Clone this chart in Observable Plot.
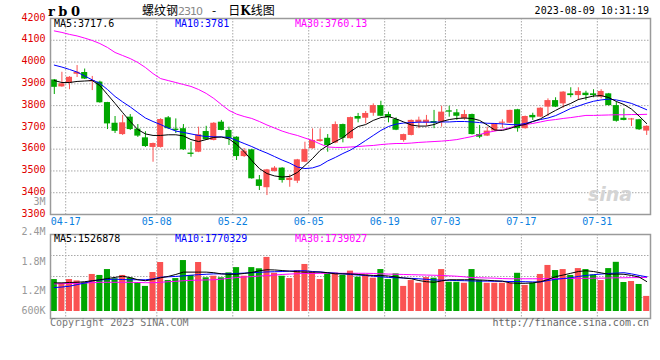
<!DOCTYPE html>
<html><head><meta charset="utf-8">
<script src="https://cdn.jsdelivr.net/npm/d3@7"></script>
<script src="https://cdn.jsdelivr.net/npm/@observablehq/plot@0.6"></script>
<style>
body{margin:0;background:#fff;}
#wrap{position:relative;width:660px;height:360px;overflow:hidden;background:#fff;font-family:"DejaVu Sans Mono",monospace;font-size:10px;}
#wrap svg{position:absolute;left:0;top:0;}
.t{position:absolute;white-space:nowrap;line-height:10px;font-family:"DejaVu Sans Mono",monospace;font-size:10px;}
</style></head><body><div id="wrap"></div>
<script>
// ---------- data ----------
const dates = ["04-14","04-17","04-18","04-19","04-20","04-21","04-24","04-25","04-26","04-27","04-28",
"05-04","05-05","05-08","05-09","05-10","05-11","05-12","05-15","05-16","05-17","05-18","05-19","05-22","05-23","05-24","05-25","05-26","05-29","05-30","05-31",
"06-01","06-02","06-05","06-06","06-07","06-08","06-09","06-12","06-13","06-14","06-15","06-16","06-19","06-20","06-21","06-26","06-27","06-28","06-29","06-30",
"07-03","07-04","07-05","07-06","07-07","07-10","07-11","07-12","07-13","07-14","07-17","07-18","07-19","07-20","07-21","07-24","07-25","07-26","07-27","07-28","07-31",
"08-01","08-02","08-03","08-04","08-07","08-08","08-09"];
const open  = [3918,3886,3903,3944,3952,3910,3908,3814,3719,3667,3747,3692,3652,3608,3608,3744,3692,3694,3582,3586,3681,3640,3724,3686,3655,3566,3597,3459,3423,3497,3513,3456,3453,3540,3602,3635,3650,3628,3713,3648,3750,3742,3765,3800,3759,3736,3640,3663,3722,3721,3727,3724,3776,3767,3740,3759,3667,3660,3683,3719,3719,3781,3694,3755,3747,3793,3823,3808,3854,3846,3857,3854,3839,3854,3800,3742,3734,3735,3683];
const high  = [3920,3953,3933,3984,3968,3934,3912,3815,3750,3755,3759,3713,3680,3628,3740,3750,3739,3713,3632,3701,3705,3722,3732,3701,3657,3603,3599,3479,3507,3520,3515,3482,3553,3632,3693,3693,3667,3725,3715,3747,3764,3773,3808,3820,3770,3744,3669,3734,3747,3755,3778,3797,3797,3782,3778,3761,3709,3701,3718,3735,3779,3783,3752,3765,3790,3831,3836,3864,3882,3882,3866,3873,3873,3856,3816,3785,3741,3737,3707];
const low   = [3851,3884,3873,3929,3920,3869,3811,3690,3672,3663,3686,3654,3608,3540,3605,3690,3672,3594,3563,3584,3640,3638,3684,3617,3548,3562,3462,3410,3387,3495,3444,3425,3442,3538,3600,3632,3586,3625,3629,3646,3721,3716,3751,3749,3721,3685,3632,3661,3694,3705,3694,3701,3747,3732,3732,3665,3648,3658,3680,3694,3717,3678,3692,3732,3745,3750,3791,3788,3836,3823,3823,3836,3831,3798,3724,3730,3704,3686,3663];
const close = [3884,3900,3930,3953,3922,3915,3813,3716,3682,3721,3690,3660,3612,3626,3736,3694,3686,3597,3576,3666,3643,3719,3686,3648,3566,3591,3464,3429,3505,3513,3456,3467,3551,3598,3640,3643,3617,3713,3650,3745,3738,3764,3800,3751,3744,3687,3667,3732,3733,3733,3719,3770,3770,3751,3759,3667,3655,3683,3717,3724,3778,3694,3750,3744,3788,3823,3793,3862,3846,3865,3846,3846,3865,3800,3728,3732,3739,3689,3705];
const ma5   = [3915,3906,3906,3911,3913,3915,3892,3851,3810,3768,3727,3690,3670,3663,3663,3666,3666,3661,3644,3635,3644,3654,3656,3647,3622,3589,3548,3511,3488,3477,3472,3475,3493,3525,3557,3594,3617,3635,3653,3681,3704,3713,3732,3745,3750,3739,3725,3711,3706,3706,3713,3727,3736,3741,3743,3741,3732,3711,3688,3686,3695,3707,3713,3727,3739,3759,3778,3796,3810,3828,3836,3844,3846,3837,3819,3805,3784,3752,3717.6];
const ma10  = [3986,3977,3966,3954,3936,3918,3902,3874,3842,3817,3794,3768,3743,3727,3713,3697,3683,3677,3670,3663,3658,3657,3656,3654,3640,3626,3612,3596,3582,3566,3550,3536,3518,3511,3514,3525,3546,3562,3580,3596,3617,3640,3663,3686,3704,3715,3720,3722,3724,3724,3724,3725,3725,3727,3727,3725,3722,3719,3718,3716,3713,3712,3718,3727,3736,3743,3754,3770,3787,3798,3810,3820,3826,3830,3826,3819,3810,3796,3781];
const ma30  = [4143,4136,4127,4120,4110,4099,4085,4067,4044,4030,4016,3998,3975,3947,3924,3915,3906,3897,3888,3874,3856,3833,3805,3778,3761,3750,3741,3727,3711,3697,3683,3672,3663,3651,3640,3624,3610,3608,3608,3610,3612,3615,3617,3621,3624,3626,3626,3628,3631,3633,3635,3637,3640,3644,3651,3658,3667,3677,3683,3690,3699,3709,3713,3718,3725,3732,3736,3741,3745,3750,3755,3755,3756,3757,3758,3758,3759,3759,3760.13];
// volume in millions of lots
const volumeM = [1.63,1.44,1.63,1.56,1.48,1.89,1.84,2.14,1.67,1.84,1.71,1.48,1.28,1.99,2.50,1.58,1.68,2.60,1.84,2.50,1.72,1.80,1.72,1.97,2.24,1.80,2.24,2.18,2.76,1.95,1.80,1.68,2.09,2.40,2.01,1.63,1.92,1.96,1.84,2.06,1.75,1.87,1.70,2.14,1.63,1.92,1.28,1.58,1.44,1.73,1.70,2.14,1.49,1.49,1.44,2.14,1.58,1.44,1.44,1.44,1.44,1.95,1.33,1.44,1.89,2.35,2.09,2.14,1.84,2.19,2.14,1.86,1.58,2.19,2.51,1.48,1.53,1.38,0.77];
const vma5  = [1.46,1.46,1.48,1.49,1.52,1.57,1.62,1.68,1.74,1.80,1.73,1.62,1.57,1.63,1.72,1.79,1.89,2.01,2.01,2.01,2.01,1.98,1.92,1.90,1.90,1.94,1.99,2.08,2.13,2.12,2.09,2.06,2.03,2.01,2.01,2.01,1.98,1.92,1.92,1.92,1.89,1.86,1.84,1.84,1.81,1.76,1.71,1.67,1.58,1.52,1.49,1.56,1.62,1.62,1.62,1.62,1.61,1.59,1.57,1.55,1.46,1.44,1.44,1.46,1.52,1.63,1.78,1.86,1.95,2.04,2.08,2.04,1.97,1.90,1.91,1.90,1.84,1.76,1.526878];
const vma10 = [1.22,1.25,1.29,1.37,1.45,1.56,1.61,1.63,1.65,1.63,1.62,1.62,1.62,1.66,1.75,1.77,1.79,1.82,1.85,1.88,1.90,1.92,1.92,1.92,1.94,1.96,1.98,2.00,2.02,2.03,2.04,2.06,2.08,2.08,2.04,2.02,1.98,1.96,1.92,1.89,1.86,1.84,1.80,1.77,1.74,1.72,1.71,1.69,1.67,1.64,1.61,1.60,1.59,1.58,1.57,1.56,1.55,1.55,1.54,1.54,1.53,1.53,1.52,1.51,1.51,1.58,1.64,1.68,1.72,1.79,1.84,1.88,1.91,1.94,1.96,1.98,1.92,1.84,1.770329];
const vma30 = [1.41,1.42,1.43,1.44,1.45,1.47,1.49,1.49,1.49,1.49,1.49,1.48,1.47,1.47,1.49,1.52,1.54,1.57,1.59,1.60,1.61,1.62,1.65,1.69,1.73,1.76,1.78,1.81,1.83,1.86,1.89,1.91,1.93,1.94,1.94,1.95,1.95,1.95,1.95,1.95,1.95,1.95,1.94,1.92,1.91,1.90,1.89,1.88,1.87,1.86,1.85,1.84,1.82,1.80,1.77,1.73,1.72,1.71,1.70,1.68,1.67,1.67,1.67,1.67,1.67,1.68,1.68,1.68,1.69,1.69,1.69,1.70,1.70,1.71,1.72,1.72,1.73,1.73,1.739027];
const xTickDates = ["04-17","05-08","05-22","06-05","06-19","07-03","07-17","07-31"];
const priceTicks = [3300,3400,3500,3600,3700,3800,3900,4000,4100,4200];
const volTickValues = [0.6,1.2,1.8,2.4,3.0];
const volTickLabels = ["600K","1.2M","1.8M","2.4M","3M"];

// ---------- build ----------
const RED = "#fa5252", GREEN = "#00a600", GRID = "#a8a8a8", BORDER = "#9a9a9a";
const rows = dates.map((d, i) => ({
  i, date: d, open: open[i], high: high[i], low: low[i], close: close[i],
  up: close[i] >= open[i], vol: volumeM[i],
  ma5: ma5[i], ma10: ma10[i], ma30: ma30[i], vma5: vma5[i], vma10: vma10[i], vma30: vma30[i]
}));
const W = 660, H = 360;
const xDomain = [-0.5, dates.length - 0.5];
const tickPos = xTickDates.map(d => dates.indexOf(d) + 0.5); // grid sits after the labelled day
const tickName = new Map(tickPos.map((p, k) => [p, xTickDates[k]]));
const col = d => d.up ? RED : GREEN;
const baseStyle = {background: "transparent", fontFamily: "DejaVu Sans Mono, monospace", fontSize: "10px", overflow: "visible"};
const dash = "1.5,1.5";

const pricePlot = Plot.plot({
  width: W, height: H, marginTop: 18, marginBottom: 146, marginLeft: 50, marginRight: 10,
  style: baseStyle,
  x: {type: "linear", domain: xDomain, axis: null},
  y: {type: "linear", domain: [3300, 4200], axis: null},
  marks: [
    Plot.gridY(priceTicks.slice(1, -1), {stroke: GRID, strokeOpacity: 1, strokeDasharray: dash}),
    Plot.gridX(tickPos, {stroke: GRID, strokeOpacity: 1, strokeDasharray: dash}),
    Plot.ruleX(rows, {x: "i", y1: "low", y2: "high", stroke: col, strokeWidth: 1}),
    Plot.rectY(rows, {x1: d => d.i - 0.4, x2: d => d.i + 0.4, y1: "open", y2: "close", fill: col}),
    Plot.line(rows, {x: "i", y: "ma30", stroke: "#ff00ff", strokeWidth: 1}),
    Plot.line(rows, {x: "i", y: "ma10", stroke: "#0000ff", strokeWidth: 1}),
    Plot.line(rows, {x: "i", y: "ma5", stroke: "#000000", strokeWidth: 1}),
    Plot.axisY(priceTicks, {tickSize: 0, tickPadding: 5, color: "#e00000", fill: "#e00000", label: null, dy: -1, tickFormat: d => String(d)}),
    Plot.axisX(tickPos, {tickSize: 0, tickPadding: 3, color: "#0a80e0", fill: "#0a80e0", label: null, tickFormat: d => tickName.get(d)}),
    Plot.frame({stroke: BORDER, strokeWidth: 1.5})
  ]
});

const vDomain = [-0.357, 3.929];
const vGrid = [1, 2, 3].map(k => vDomain[0] + (vDomain[1] - vDomain[0]) * k / 4);
const volPlot = Plot.plot({
  width: W, height: H, marginTop: 234, marginBottom: 42, marginLeft: 50, marginRight: 10,
  style: baseStyle,
  x: {type: "linear", domain: xDomain, axis: null},
  y: {type: "linear", domain: vDomain, axis: null},
  marks: [
    Plot.gridY(vGrid, {stroke: GRID, strokeOpacity: 1, strokeDasharray: dash}),
    Plot.gridX(tickPos, {stroke: GRID, strokeOpacity: 1, strokeDasharray: dash}),
    Plot.rectY(rows, {x1: d => d.i - 0.4, x2: d => d.i + 0.4, y1: 0, y2: "vol", fill: col}),
    Plot.line(rows, {x: "i", y: "vma30", stroke: "#ff00ff", strokeWidth: 1}),
    Plot.line(rows, {x: "i", y: "vma10", stroke: "#0000ff", strokeWidth: 1}),
    Plot.line(rows, {x: "i", y: "vma5", stroke: "#000000", strokeWidth: 1}),
    Plot.frame({stroke: BORDER, strokeWidth: 1.5})
  ]
});

// Sina prints its volume labels on its own uneven ladder: a piecewise scale carries it
const volAxisPlot = Plot.plot({
  width: W, height: H, marginTop: 0, marginBottom: 0, marginLeft: 50, marginRight: 10,
  style: baseStyle,
  x: {type: "linear", domain: [0, 1], axis: null},
  y: {type: "linear", domain: volTickValues, range: [310.5, 290.5, 261, 231, 201.5], axis: null},
  marks: [
    Plot.axisY(volTickValues, {tickSize: 0, tickPadding: 5, color: "#999", fill: "#999", label: null,
      tickFormat: d => volTickLabels[volTickValues.indexOf(d)]})
  ]
});

const wrap = document.getElementById("wrap");
wrap.append(pricePlot, volPlot, volAxisPlot);

function txt(html, css) {
  const el = document.createElement("div");
  el.className = "t";
  el.innerHTML = html;
  Object.assign(el.style, css);
  wrap.append(el);
  return el;
}
txt("rb0", {left: "48px", top: "5px", fontFamily: "DejaVu Serif, serif", fontWeight: "bold", fontSize: "13px", lineHeight: "13px", letterSpacing: "3.5px", color: "#000"});
txt('<span>螺纹钢</span><span style="color:#888;font-family:DejaVu Sans,sans-serif;font-size:11px;letter-spacing:-1px">2310</span>' +
    '<span style="margin-left:10px;margin-right:12px">-</span><span>日<b style="font-family:DejaVu Serif,serif">K</b>线图</span>',
  {left: "142px", top: "3px", fontFamily: "'Noto Sans CJK SC', sans-serif", fontSize: "12px", lineHeight: "14px", color: "#000"});
txt("2023-08-09 10:31:19", {right: "11px", top: "6px", color: "#000"});
txt("MA5:" + ma5[ma5.length - 1], {left: "54px", top: "19px", color: "#000"});
txt("MA10:" + ma10[ma10.length - 1], {left: "175px", top: "19px", color: "#0000ff"});
txt("MA30:" + ma30[ma30.length - 1], {left: "295px", top: "19px", color: "#ff00ff"});
txt("MA5:" + Math.round(vma5[vma5.length - 1] * 1e6), {left: "54px", top: "234px", color: "#000"});
txt("MA10:" + Math.round(vma10[vma10.length - 1] * 1e6), {left: "175px", top: "234px", color: "#0000ff"});
txt("MA30:" + Math.round(vma30[vma30.length - 1] * 1e6), {left: "295px", top: "234px", color: "#ff00ff"});
txt("Copyright 2023 SINA.COM", {left: "50px", top: "318px", color: "#777"});
txt("http://finance.sina.com.cn", {right: "11px", top: "318px", color: "#666"});
txt("sina", {left: "588px", top: "185px", fontFamily: "DejaVu Sans, sans-serif", fontStyle: "italic", fontWeight: "bold", fontSize: "19px", lineHeight: "19px", color: "#d4d4d4"});
</script></body></html>
